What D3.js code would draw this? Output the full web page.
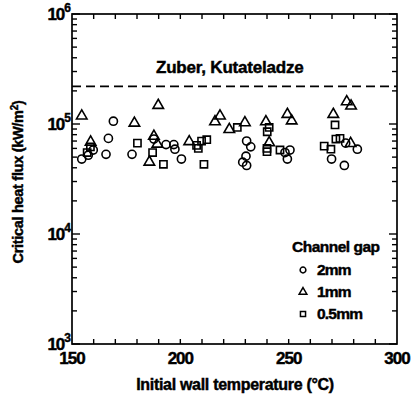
<!DOCTYPE html>
<html>
<head>
<meta charset="utf-8">
<script src="https://cdn.jsdelivr.net/npm/d3@7"></script>
<style>
  body { margin: 0; background: #fff; }
  svg { display: block; }
  text { font-family: "Liberation Sans", Arial, Helvetica, sans-serif; font-weight: bold; fill: #000; stroke: #000; stroke-width: 0.45; }
</style>
</head>
<body>
<svg id="chart" width="418" height="401"></svg>
<script>
// Critical heat flux vs initial wall temperature, grouped by channel gap
const temp2mm  = [154.5, 157.5, 159.8, 165.7, 166.8, 169.1, 177.7, 187.8, 193.4, 197.0, 197.5, 200.5, 230.6, 232.5, 230.3, 228.8, 230.6, 248.3, 250.6, 249.4, 269.8, 275.7, 276.3, 281.7];
const chf2mm   = [4.8e4, 5.2e4, 5.8e4, 5.3e4, 7.4e4, 1.06e5, 5.3e4, 7.3e4, 6.5e4, 6.5e4, 5.9e4, 4.8e4, 7.0e4, 6.2e4, 5.1e4, 4.5e4, 4.2e4, 5.5e4, 5.8e4, 4.8e4, 4.8e4, 4.2e4, 6.7e4, 5.9e4];

const temp1mm  = [154.5, 158.6, 178.8, 189.8, 187.8, 189.4, 185.7, 204.1, 216.0, 218.3, 222.6, 229.8, 239.5, 241.0, 249.4, 251.4, 270.6, 276.8, 278.8, 278.6];
const chf1mm   = [1.21e5, 7.0e4, 1.04e5, 1.51e5, 7.9e4, 6.7e4, 4.6e4, 7.06e4, 1.07e5, 1.21e5, 9.1e4, 1.05e5, 1.07e5, 6.9e4, 1.25e5, 1.09e5, 1.25e5, 1.63e5, 1.49e5, 6.8e4];

const temp05mm = [157.0, 158.5, 180.2, 187.2, 192.2, 207.5, 208.3, 209.8, 212.2, 210.9, 226.3, 241.0, 240.1, 240.0, 240.0, 246.0, 266.4, 269.5, 271.4, 271.8, 273.7];
const chf05mm  = [5.5e4, 6.2e4, 6.7e4, 5.5e4, 4.3e4, 6.4e4, 6.0e4, 7.0e4, 7.2e4, 4.3e4, 9.3e4, 9.3e4, 8.5e4, 5.6e4, 6.0e4, 5.8e4, 6.3e4, 5.9e4, 9.8e4, 7.3e4, 7.4e4];

// Zuber–Kutateladze prediction
const zuberValue = 2.2e5;
const zuberLabel = "Zuber, Kutateladze";

const xTicks = [150, 200, 250, 300];
const yDecades = [3, 4, 5, 6];
const legendLabels = ["2mm", "1mm", "0.5mm"];
const legendTitle = "Channel gap";

const svg = d3.select("#chart");
const m = { left: 72, right: 397, top: 14, bottom: 344 };

const x = d3.scaleLinear().domain([150, 300]).range([m.left, m.right]);
const y = d3.scaleLog().domain([1e3, 1e6]).range([m.bottom, m.top]);

const g = svg.append("g");

// Frame
g.append("rect")
  .attr("x", m.left).attr("y", m.top)
  .attr("width", m.right - m.left).attr("height", m.bottom - m.top)
  .attr("fill", "none").attr("stroke", "#000").attr("stroke-width", 1.7);

// Minor x ticks every 10 °C, inward on top and bottom
const xMinor = d3.range(160, 300, 10);
g.selectAll(".xtb").data(xMinor).join("line")
  .attr("x1", d => x(d)).attr("x2", d => x(d))
  .attr("y1", m.bottom).attr("y2", m.bottom - 5)
  .attr("stroke", "#000").attr("stroke-width", 1.4);
g.selectAll(".xtt").data(xMinor).join("line")
  .attr("x1", d => x(d)).attr("x2", d => x(d))
  .attr("y1", m.top).attr("y2", m.top + 5)
  .attr("stroke", "#000").attr("stroke-width", 1.4);

// Log y ticks, inward on left and right
const yTickVals = [];
for (let e = 3; e < 6; e++) for (let k = 1; k <= 9; k++) yTickVals.push({ v: k * Math.pow(10, e), major: k === 1 });
yTickVals.push({ v: 1e6, major: true });
yTickVals.forEach(t => {
  const len = t.major ? 8 : 5;
  const yy = y(t.v);
  g.append("line").attr("x1", m.left).attr("x2", m.left + len).attr("y1", yy).attr("y2", yy)
    .attr("stroke", "#000").attr("stroke-width", 1.4);
  g.append("line").attr("x1", m.right).attr("x2", m.right - len).attr("y1", yy).attr("y2", yy)
    .attr("stroke", "#000").attr("stroke-width", 1.4);
});

// X tick labels
g.selectAll(".xl").data(xTicks).join("text")
  .attr("x", d => x(d)).attr("y", m.bottom + 20)
  .attr("text-anchor", "middle").attr("font-size", 17).attr("letter-spacing", -1)
  .text(d => d);

// Y tick labels as powers of ten
yDecades.forEach(e => {
  const t = g.append("text").attr("x", m.left - 2).attr("y", y(Math.pow(10, e)) + 6)
    .attr("text-anchor", "end").attr("font-size", 17).attr("letter-spacing", -1);
  t.append("tspan").text("10");
  t.append("tspan").attr("dy", -8).attr("font-size", 12).text(e);
});

// Axis titles
g.append("text")
  .attr("x", 235).attr("y", 390)
  .attr("text-anchor", "middle").attr("font-size", 16).attr("letter-spacing", -0.3)
  .text("Initial wall temperature (°C)");

const yt = g.append("text")
  .attr("transform", `translate(23, 182) rotate(-90)`)
  .attr("text-anchor", "middle").attr("font-size", 14.5).attr("letter-spacing", -0.3);
yt.append("tspan").text("Critical heat flux (kW/m");
yt.append("tspan").attr("dy", -5).attr("font-size", 10).text("2");
yt.append("tspan").attr("dy", 5).text(")");

// Zuber–Kutateladze dashed line
g.append("line")
  .attr("x1", m.left).attr("x2", m.right)
  .attr("y1", y(zuberValue)).attr("y2", y(zuberValue))
  .attr("stroke", "#000").attr("stroke-width", 1.7).attr("stroke-dasharray", "9,5");
g.append("text")
  .attr("x", 156).attr("y", y(zuberValue) - 13)
  .attr("font-size", 17).attr("letter-spacing", -0.2)
  .text(zuberLabel);

// Marker shapes
const sym = {
  circle: d3.symbol().type(d3.symbolCircle).size(52),
  triangle: d3.symbol().type(d3.symbolTriangle).size(48),
  square: d3.symbol().type(d3.symbolSquare).size(52)
};
function drawSeries(xs, ys, shape, dy) {
  g.append("g").selectAll("path").data(xs.map((t, i) => [t, ys[i]])).join("path")
    .attr("d", sym[shape]())
    .attr("transform", d => `translate(${x(d[0])},${y(d[1]) + dy})`)
    .attr("fill", "none").attr("stroke", "#000").attr("stroke-width", 1.6);
}
drawSeries(temp2mm, chf2mm, "circle", 0);
drawSeries(temp1mm, chf1mm, "triangle", 1);
drawSeries(temp05mm, chf05mm, "square", 0);

// Legend
const lg = g.append("g");
lg.append("text").attr("x", 292).attr("y", 252).attr("font-size", 15.5).attr("letter-spacing", -0.5).text(legendTitle);
const legendShapes = [
  d3.symbol().type(d3.symbolCircle).size(26),
  d3.symbol().type(d3.symbolTriangle).size(26),
  d3.symbol().type(d3.symbolSquare).size(26)
];
legendLabels.forEach((lab, i) => {
  const yy = 270 + i * 22;
  lg.append("path").attr("d", legendShapes[i]())
    .attr("transform", `translate(303,${yy})`)
    .attr("fill", "none").attr("stroke", "#000").attr("stroke-width", 1.5);
  lg.append("text").attr("x", 317).attr("y", yy + 5).attr("font-size", 15.5).attr("letter-spacing", -0.8).text(lab);
});
</script>
</body>
</html>
